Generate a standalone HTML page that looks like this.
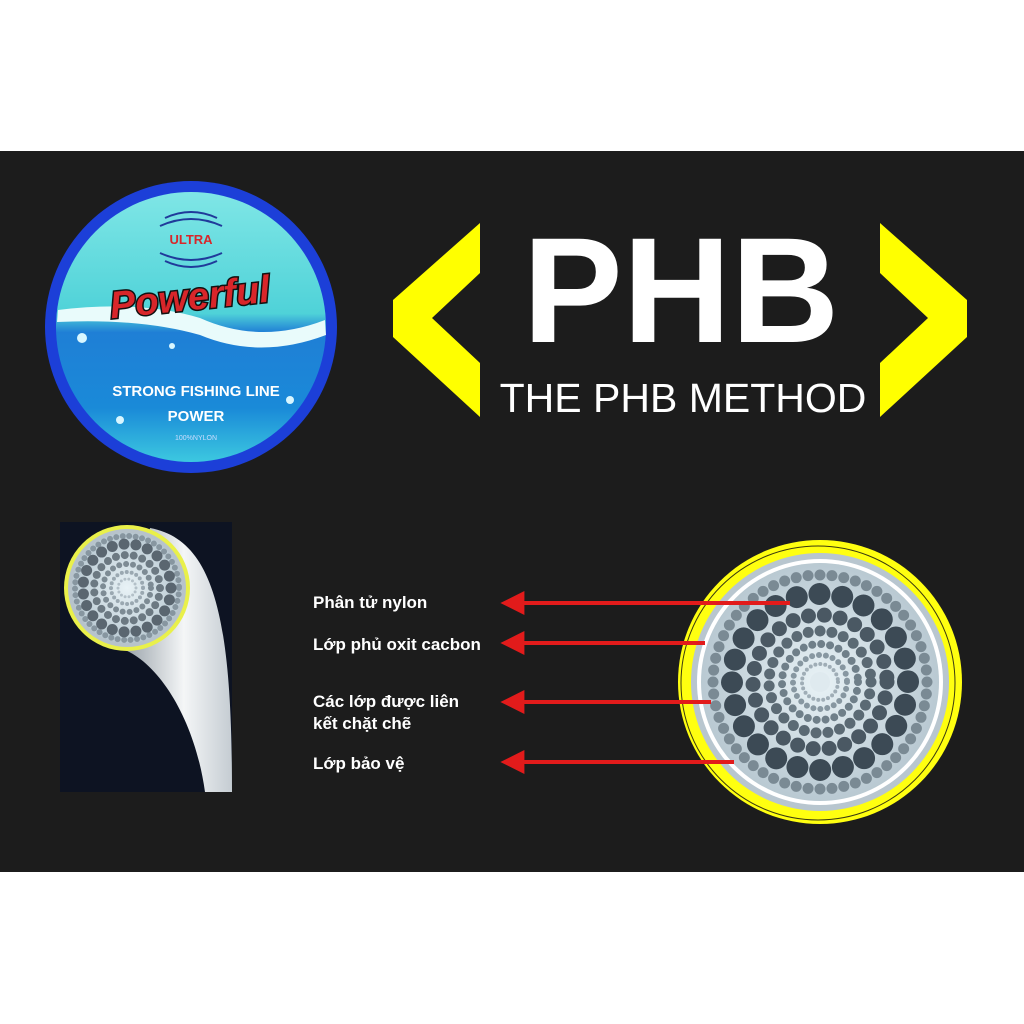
<!DOCTYPE html>
<html><head><meta charset="utf-8"><style>
html,body{margin:0;padding:0;background:#fff;}
svg{display:block}
</style></head><body>
<svg width="1024" height="1024" viewBox="0 0 1024 1024" xmlns="http://www.w3.org/2000/svg">
<defs>
<linearGradient id="sea" x1="0" y1="0" x2="0" y2="1">
<stop offset="0" stop-color="#7fe6e6"/><stop offset="0.45" stop-color="#4fd2d8"/>
<stop offset="0.52" stop-color="#1f7fd6"/><stop offset="0.8" stop-color="#1a8ad8"/><stop offset="1" stop-color="#3cc8e0"/>
</linearGradient>
<radialGradient id="core" cx="0.5" cy="0.5" r="0.5">
<stop offset="0" stop-color="#e8f2f6"/><stop offset="1" stop-color="#b9c9d2"/>
</radialGradient>
<linearGradient id="tube" x1="0" y1="0" x2="1" y2="0">
<stop offset="0" stop-color="#9aa3aa"/><stop offset="0.55" stop-color="#f4f6f7"/><stop offset="1" stop-color="#c5ccd2"/>
</linearGradient>
<marker id="ah" viewBox="0 0 10 10" refX="1" refY="5" markerWidth="7" markerHeight="6" orient="auto-start-reverse"><path d="M0,0 L10,5 L0,10z" fill="#e21b1b"/></marker>
</defs>
<rect x="0" y="151" width="1024" height="721" fill="#1c1c1c"/>

<!-- logo -->
<circle cx="191" cy="327" r="146" fill="#1c3fd8"/>
<circle cx="191" cy="327" r="135" fill="url(#sea)"/>
<path d="M58,310 Q140,300 200,318 Q260,345 325,320 L326,335 Q260,360 200,335 Q140,318 57,322z" fill="#e9fbfb"/>
<circle cx="82" cy="338" r="5" fill="#d8f6ff"/><circle cx="172" cy="346" r="3" fill="#d8f6ff"/><circle cx="120" cy="420" r="4" fill="#d8f6ff"/><circle cx="290" cy="400" r="4" fill="#d8f6ff"/>
<path d="M165,218 Q191,206 217,218" stroke="#203a9a" stroke-width="2" fill="none"/>
<path d="M160,226 Q191,212 222,226" stroke="#203a9a" stroke-width="2" fill="none"/>
<path d="M160,253 Q191,267 222,253" stroke="#203a9a" stroke-width="2" fill="none"/>
<path d="M165,261 Q191,273 217,261" stroke="#203a9a" stroke-width="2" fill="none"/>
<text x="191" y="244" text-anchor="middle" font-family="Liberation Sans,sans-serif" font-weight="bold" font-size="13" fill="#d8262a">ULTRA</text>
<text x="190" y="310" text-anchor="middle" font-family="Liberation Sans,sans-serif" font-weight="bold" font-style="italic" font-size="38" fill="#d8262a" stroke="#111" stroke-width="3" paint-order="stroke" transform="rotate(-6 190 300)">Powerful</text>
<text x="196" y="396" text-anchor="middle" font-family="Liberation Sans,sans-serif" font-weight="bold" font-size="15" fill="#fff">STRONG FISHING LINE</text>
<text x="196" y="421" text-anchor="middle" font-family="Liberation Sans,sans-serif" font-weight="bold" font-size="15" fill="#fff">POWER</text>
<text x="196" y="440" text-anchor="middle" font-family="Liberation Sans,sans-serif" font-size="7" fill="#cdf">100%NYLON</text>

<!-- chevrons -->
<polygon points="480,223 393,300 393,337 480,417 480,363 432,318 480,273" fill="#ffff00"/>
<polygon points="880,223 967,300 967,337 880,417 880,363 928,318 880,273" fill="#ffff00"/>
<text x="681" y="342" text-anchor="middle" font-family="Liberation Sans,sans-serif" font-weight="bold" font-size="150" fill="#fff">PHB</text>
<text x="683" y="412" text-anchor="middle" font-family="Liberation Sans,sans-serif" font-size="41" fill="#fff">THE PHB METHOD</text>

<!-- left image -->
<rect x="60" y="522" width="172" height="270" fill="#0d1322"/>
<path d="M150,528 C215,540 232,620 232,792 L205,792 C195,720 160,665 125,650 z" fill="url(#tube)"/>
<circle cx="127" cy="588" r="63" fill="#e9f04a"/>
<circle cx="127" cy="588" r="59" fill="#b7c3cb"/>
<circle cx="127" cy="588" r="55" fill="url(#core)"/>
<circle cx="127" cy="588" r="52" fill="none" stroke="#8796a0" stroke-width="6" stroke-dasharray="0 6.5" stroke-linecap="round"/>
<circle cx="127" cy="588" r="44" fill="none" stroke="#5a6670" stroke-width="11" stroke-dasharray="0 12" stroke-linecap="round"/>
<circle cx="127" cy="588" r="33" fill="none" stroke="#6c7982" stroke-width="8" stroke-dasharray="0 9" stroke-linecap="round"/>
<circle cx="127" cy="588" r="24" fill="none" stroke="#7d8b94" stroke-width="6" stroke-dasharray="0 7" stroke-linecap="round"/>
<circle cx="127" cy="588" r="16" fill="none" stroke="#9aa8b1" stroke-width="4" stroke-dasharray="0 5" stroke-linecap="round"/>
<circle cx="127" cy="588" r="9" fill="none" stroke="#b3c0c8" stroke-width="3" stroke-dasharray="0 4" stroke-linecap="round"/>

<!-- labels -->
<g font-family="Liberation Sans,sans-serif" font-weight="bold" font-size="17" fill="#fff">
<text x="313" y="608">Phân tử nylon</text>
<text x="313" y="650">Lớp phủ oxit cacbon</text>
<text x="313" y="707">Các lớp được liên</text>
<text x="313" y="729">kết chặt chẽ</text>
<text x="313" y="769">Lớp bảo vệ</text>
</g>

<!-- right circle -->
<circle cx="820" cy="682" r="142" fill="#ffff10"/>
<circle cx="818" cy="683" r="137" fill="none" stroke="#3a3a10" stroke-width="1"/>
<circle cx="820" cy="682" r="129" fill="#b8c6cf"/>
<circle cx="820" cy="682" r="123" fill="#fff"/>
<circle cx="820" cy="682" r="119" fill="url(#core)"/>
<circle cx="820" cy="682" r="107" fill="none" stroke="#7a8a94" stroke-width="11" stroke-dasharray="0 12" stroke-linecap="round"/>
<circle cx="820" cy="682" r="88" fill="none" stroke="#3c4a55" stroke-width="22" stroke-dasharray="0 23" stroke-linecap="round"/>
<circle cx="820" cy="682" r="67" fill="none" stroke="#4a5863" stroke-width="15" stroke-dasharray="0 16" stroke-linecap="round"/>
<circle cx="820" cy="682" r="51" fill="none" stroke="#5b6a74" stroke-width="11" stroke-dasharray="0 12" stroke-linecap="round"/>
<circle cx="820" cy="682" r="38" fill="none" stroke="#6f7f89" stroke-width="8" stroke-dasharray="0 9" stroke-linecap="round"/>
<circle cx="820" cy="682" r="27" fill="none" stroke="#8797a1" stroke-width="6" stroke-dasharray="0 7" stroke-linecap="round"/>
<circle cx="820" cy="682" r="18" fill="none" stroke="#9fadb6" stroke-width="4" stroke-dasharray="0 5" stroke-linecap="round"/>
<circle cx="820" cy="682" r="10" fill="#dfeaef"/>

<!-- arrows -->
<g stroke="#e21b1b" stroke-width="4" marker-start="url(#ah)">
<line x1="522" y1="603" x2="790" y2="603"/>
<line x1="522" y1="643" x2="705" y2="643"/>
<line x1="522" y1="702" x2="711" y2="702"/>
<line x1="522" y1="762" x2="734" y2="762"/>
</g>
</svg>
</body></html>
